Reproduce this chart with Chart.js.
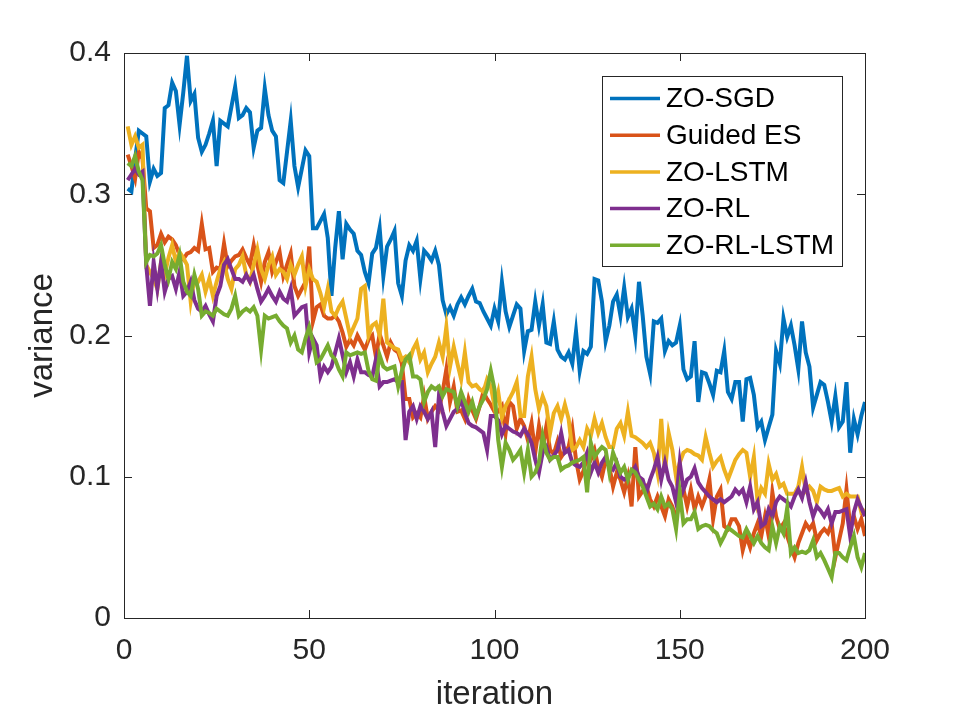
<!DOCTYPE html>
<html>
<head>
<meta charset="utf-8">
<script src="https://cdn.jsdelivr.net/npm/chart.js@4.4.1/dist/chart.umd.min.js"></script>
<style>
  html, body { margin: 0; padding: 0; background: #fff; }
  canvas { display: block; }
</style>
</head>
<body>
<canvas id="myChart" width="955" height="716"></canvas>
<script>
// iterations 1..200 (category axis)
const iterations = Array.from({length: 200}, (_, i) => i + 1);

const seriesNames = ["ZO-SGD", "Guided ES", "ZO-LSTM", "ZO-RL", "ZO-RL-LSTM"];
const seriesColors = ["#0072BD", "#D95319", "#EDB120", "#7E2F8E", "#77AC30"];

const xTicks = [0, 50, 100, 150, 200];
const yTicks = [0, 0.1, 0.2, 0.3, 0.4];

const zoSgd = [
  0.304,0.302,0.325,0.345,0.343,0.341,0.309,0.318,0.313,0.315,
  0.361,0.363,0.379,0.373,0.349,0.372,0.398,0.366,0.371,0.340,
  0.330,0.335,0.343,0.352,0.320,0.352,0.350,0.348,0.362,0.376,
  0.354,0.356,0.361,0.358,0.333,0.345,0.347,0.375,0.356,0.345,
  0.341,0.310,0.308,0.330,0.352,0.320,0.305,0.318,0.331,0.327,
  0.276,0.276,0.281,0.286,0.269,0.228,0.262,0.288,0.254,0.279,
  0.275,0.272,0.260,0.257,0.245,0.237,0.258,0.262,0.276,0.242,
  0.263,0.268,0.274,0.237,0.228,0.253,0.264,0.260,0.267,0.240,
  0.260,0.257,0.253,0.260,0.250,0.225,0.215,0.220,0.214,0.222,
  0.227,0.222,0.228,0.233,0.224,0.223,0.217,0.212,0.207,0.219,
  0.210,0.238,0.217,0.206,0.214,0.222,0.219,0.189,0.203,0.204,
  0.224,0.207,0.222,0.195,0.194,0.210,0.190,0.185,0.183,0.188,
  0.180,0.203,0.175,0.189,0.187,0.192,0.240,0.239,0.224,0.196,
  0.207,0.224,0.229,0.214,0.234,0.213,0.219,0.200,0.238,0.214,
  0.185,0.173,0.210,0.209,0.212,0.189,0.196,0.193,0.195,0.207,
  0.176,0.169,0.171,0.196,0.153,0.174,0.173,0.166,0.158,0.175,
  0.174,0.189,0.160,0.155,0.167,0.167,0.139,0.169,0.170,0.158,
  0.135,0.139,0.126,0.135,0.144,0.189,0.180,0.212,0.199,0.207,
  0.193,0.176,0.210,0.188,0.178,0.149,0.158,0.167,0.165,0.153,
  0.139,0.157,0.135,0.139,0.167,0.117,0.141,0.130,0.143,0.153
];

const guidedEs = [
  0.328,0.320,0.311,0.330,0.325,0.290,0.288,0.262,0.264,0.272,
  0.266,0.270,0.268,0.264,0.257,0.254,0.258,0.259,0.262,0.260,
  0.279,0.261,0.262,0.245,0.248,0.247,0.265,0.249,0.253,0.256,
  0.257,0.261,0.255,0.250,0.264,0.250,0.238,0.252,0.259,0.245,
  0.252,0.259,0.242,0.250,0.258,0.235,0.228,0.233,0.238,0.263,
  0.210,0.220,0.222,0.214,0.212,0.212,0.214,0.210,0.202,0.192,
  0.197,0.193,0.200,0.195,0.190,0.197,0.200,0.185,0.201,0.193,
  0.185,0.195,0.190,0.188,0.180,0.155,0.155,0.142,0.145,0.142,
  0.157,0.141,0.146,0.150,0.147,0.160,0.176,0.153,0.164,0.146,
  0.147,0.141,0.155,0.147,0.141,0.150,0.160,0.155,0.151,0.146,
  0.146,0.150,0.131,0.153,0.150,0.134,0.141,0.136,0.126,0.138,
  0.117,0.136,0.121,0.136,0.119,0.116,0.125,0.114,0.118,0.121,
  0.134,0.112,0.098,0.104,0.114,0.112,0.119,0.107,0.100,0.112,
  0.107,0.093,0.103,0.098,0.089,0.100,0.079,0.121,0.086,0.090,
  0.093,0.084,0.079,0.086,0.079,0.072,0.084,0.079,0.070,0.084,
  0.091,0.079,0.091,0.077,0.086,0.079,0.086,0.098,0.070,0.086,
  0.091,0.065,0.063,0.070,0.070,0.065,0.048,0.058,0.050,0.060,
  0.067,0.058,0.072,0.058,0.089,0.072,0.063,0.067,0.058,0.050,
  0.043,0.053,0.060,0.067,0.063,0.067,0.055,0.060,0.063,0.060,
  0.067,0.043,0.055,0.067,0.091,0.065,0.072,0.063,0.070,0.058
];

const zoLstm = [
  0.348,0.335,0.341,0.333,0.335,0.250,0.245,0.240,0.233,0.252,
  0.243,0.255,0.264,0.252,0.259,0.255,0.250,0.224,0.240,0.238,
  0.243,0.231,0.240,0.228,0.238,0.247,0.252,0.240,0.233,0.247,
  0.250,0.256,0.243,0.238,0.250,0.261,0.247,0.240,0.250,0.256,
  0.243,0.247,0.245,0.240,0.250,0.243,0.250,0.256,0.235,0.247,
  0.240,0.238,0.230,0.220,0.233,0.217,0.214,0.220,0.224,0.212,
  0.200,0.206,0.212,0.233,0.235,0.200,0.207,0.209,0.200,0.226,
  0.195,0.193,0.191,0.190,0.183,0.185,0.181,0.190,0.195,0.183,
  0.188,0.174,0.180,0.185,0.195,0.185,0.206,0.178,0.192,0.180,
  0.169,0.188,0.167,0.164,0.165,0.162,0.160,0.169,0.164,0.150,
  0.160,0.142,0.150,0.155,0.160,0.167,0.143,0.143,0.171,0.185,
  0.162,0.148,0.157,0.150,0.131,0.145,0.150,0.141,0.151,0.141,
  0.119,0.121,0.126,0.121,0.134,0.129,0.141,0.131,0.138,0.128,
  0.121,0.121,0.134,0.138,0.129,0.146,0.129,0.128,0.126,0.124,
  0.121,0.124,0.117,0.103,0.141,0.103,0.131,0.119,0.100,0.110,
  0.117,0.119,0.118,0.116,0.115,0.112,0.128,0.117,0.107,0.111,
  0.114,0.105,0.098,0.105,0.112,0.116,0.119,0.117,0.100,0.114,
  0.082,0.092,0.088,0.109,0.098,0.102,0.093,0.095,0.088,0.088,
  0.088,0.093,0.107,0.090,0.093,0.090,0.082,0.093,0.091,0.090,
  0.090,0.091,0.092,0.086,0.088,0.086,0.086,0.086,0.075,0.077
];

const zoRl = [
  0.310,0.314,0.318,0.314,0.316,0.250,0.221,0.252,0.233,0.252,
  0.231,0.240,0.242,0.233,0.245,0.228,0.231,0.238,0.225,0.219,
  0.217,0.221,0.215,0.210,0.228,0.235,0.250,0.254,0.247,0.240,
  0.240,0.238,0.243,0.238,0.243,0.233,0.224,0.228,0.233,0.228,
  0.224,0.231,0.226,0.224,0.233,0.214,0.217,0.220,0.221,0.188,
  0.198,0.193,0.171,0.178,0.174,0.178,0.188,0.198,0.186,0.174,
  0.181,0.171,0.183,0.174,0.174,0.172,0.171,0.183,0.164,0.167,
  0.167,0.168,0.169,0.167,0.167,0.126,0.146,0.150,0.141,0.150,
  0.146,0.141,0.146,0.121,0.157,0.146,0.136,0.141,0.146,0.148,
  0.155,0.145,0.138,0.136,0.135,0.133,0.131,0.119,0.143,0.143,
  0.140,0.130,0.136,0.134,0.132,0.131,0.129,0.134,0.130,0.124,
  0.112,0.103,0.117,0.121,0.112,0.115,0.119,0.131,0.117,0.119,
  0.110,0.108,0.107,0.110,0.117,0.103,0.110,0.103,0.110,0.114,
  0.107,0.105,0.110,0.100,0.098,0.100,0.103,0.107,0.100,0.098,
  0.089,0.098,0.105,0.114,0.098,0.110,0.098,0.093,0.082,0.110,
  0.091,0.098,0.100,0.106,0.096,0.092,0.089,0.086,0.084,0.082,
  0.084,0.082,0.084,0.086,0.091,0.088,0.091,0.082,0.093,0.077,
  0.082,0.065,0.067,0.077,0.072,0.082,0.086,0.084,0.082,0.079,
  0.086,0.091,0.085,0.096,0.082,0.072,0.079,0.076,0.072,0.077,
  0.067,0.075,0.075,0.076,0.077,0.058,0.075,0.084,0.078,0.072
];

const zoRlLstm = [
  0.322,0.320,0.327,0.316,0.310,0.252,0.257,0.256,0.258,0.264,
  0.250,0.240,0.252,0.247,0.257,0.238,0.231,0.228,0.243,0.233,
  0.214,0.217,0.216,0.214,0.219,0.217,0.215,0.214,0.219,0.228,
  0.214,0.217,0.219,0.217,0.220,0.214,0.190,0.214,0.212,0.213,
  0.214,0.210,0.207,0.205,0.195,0.200,0.190,0.188,0.198,0.206,
  0.195,0.181,0.183,0.188,0.193,0.186,0.183,0.176,0.171,0.188,
  0.186,0.187,0.188,0.187,0.188,0.175,0.169,0.168,0.186,0.178,
  0.176,0.177,0.178,0.164,0.175,0.183,0.186,0.171,0.171,0.169,
  0.153,0.160,0.164,0.162,0.164,0.157,0.162,0.161,0.160,0.150,
  0.160,0.153,0.146,0.153,0.143,0.150,0.155,0.162,0.175,0.162,
  0.126,0.107,0.124,0.119,0.112,0.115,0.119,0.103,0.119,0.100,
  0.103,0.110,0.129,0.117,0.112,0.114,0.114,0.105,0.107,0.108,
  0.110,0.111,0.112,0.114,0.089,0.124,0.114,0.118,0.121,0.119,
  0.103,0.117,0.110,0.103,0.107,0.098,0.105,0.103,0.098,0.093,
  0.086,0.079,0.081,0.077,0.086,0.079,0.081,0.077,0.063,0.089,
  0.067,0.070,0.070,0.075,0.063,0.065,0.066,0.065,0.062,0.060,
  0.053,0.058,0.064,0.062,0.060,0.058,0.057,0.063,0.058,0.053,
  0.058,0.053,0.050,0.048,0.065,0.053,0.065,0.060,0.078,0.046,
  0.050,0.046,0.047,0.046,0.048,0.055,0.043,0.046,0.041,0.035,
  0.029,0.046,0.046,0.043,0.041,0.050,0.058,0.043,0.036,0.046
];

const allSeries = [zoSgd, guidedEs, zoLstm, zoRl, zoRlLstm];

const FONT = "'Liberation Sans', Arial, Helvetica, sans-serif";
const AXIS_COLOR = '#262626';

// MATLAB-like box, inward ticks and legend
const matlabBox = {
  id: 'matlabBox',
  afterDraw(chart) {
    const {ctx, chartArea: a, scales} = chart;
    ctx.save();
    ctx.strokeStyle = AXIS_COLOR;
    ctx.lineWidth = 1;
    const tl = 8;
    ctx.beginPath();
    xTicks.forEach(v => {
      const px = Math.round(scales.x.getPixelForValue(v)) + 0.5;
      ctx.moveTo(px, a.bottom); ctx.lineTo(px, a.bottom - tl);
      ctx.moveTo(px, a.top); ctx.lineTo(px, a.top + tl);
    });
    yTicks.forEach(v => {
      const py = Math.round(scales.y.getPixelForValue(v)) + 0.5;
      ctx.moveTo(a.left, py); ctx.lineTo(a.left + tl, py);
      ctx.moveTo(a.right, py); ctx.lineTo(a.right - tl, py);
    });
    ctx.stroke();
    ctx.strokeRect(Math.round(a.left) + 0.5, Math.round(a.top) + 0.5,
                   Math.round(a.right - a.left), Math.round(a.bottom - a.top));

    // legend
    const lx = 602.5, ly = 76.5, lw = 240, lh = 190;
    ctx.fillStyle = '#fff';
    ctx.fillRect(lx, ly, lw, lh);
    ctx.strokeStyle = AXIS_COLOR;
    ctx.strokeRect(lx, ly, lw, lh);
    ctx.font = '28px ' + FONT;
    ctx.textBaseline = 'middle';
    ctx.textAlign = 'left';
    seriesNames.forEach((name, k) => {
      const y = 98.5 + k * 36.7;
      ctx.strokeStyle = seriesColors[k];
      ctx.lineWidth = 3.5;
      ctx.beginPath();
      ctx.moveTo(610, y); ctx.lineTo(660, y);
      ctx.stroke();
      ctx.fillStyle = '#000';
      ctx.fillText(name, 666, y + 1);
    });
    ctx.restore();
  }
};

const ctx = document.getElementById('myChart').getContext('2d');

const myChart = new Chart(ctx, {
  type: 'line',
  data: {
    datasets: allSeries.map((vals, k) => ({
      label: seriesNames[k],
      data: vals.map((v, i) => ({x: iterations[i], y: v})),
      borderColor: seriesColors[k],
      backgroundColor: seriesColors[k],
      borderWidth: 4,
      pointRadius: 0,
      tension: 0,
      fill: false,
      order: allSeries.length - k
    }))
  },
  options: {
    responsive: false,
    animation: false,
    devicePixelRatio: 1,
    layout: { padding: { left: 0, top: 53, right: 90, bottom: 0 } },
    plugins: {
      legend: { display: false },
      tooltip: { enabled: false }
    },
    scales: {
      x: {
        type: 'linear',
        min: 0, max: 200,
        afterFit: s => { s.height = 98; },
        afterBuildTicks: s => { s.ticks = xTicks.map(v => ({value: v})); },
        grid: { display: false, drawTicks: false },
        border: { display: false },
        ticks: {
          color: AXIS_COLOR,
          font: { family: FONT, size: 30 },
          padding: 15,
          maxRotation: 0
        },
        title: {
          display: true,
          text: 'iteration',
          color: AXIS_COLOR,
          font: { family: FONT, size: 33, lineHeight: 1 },
          padding: { top: 0, bottom: 5 }
        }
      },
      y: {
        type: 'linear',
        min: 0, max: 0.4,
        afterFit: s => { s.width = 124; },
        afterBuildTicks: s => { s.ticks = yTicks.map(v => ({value: v})); },
        grid: { display: false, drawTicks: false },
        border: { display: false },
        ticks: {
          color: AXIS_COLOR,
          font: { family: FONT, size: 30 },
          padding: 13,
          callback: v => String(Number(v.toFixed(1)))
        },
        title: {
          display: true,
          text: 'variance',
          color: AXIS_COLOR,
          font: { family: FONT, size: 33, lineHeight: 1 },
          padding: { top: 26, bottom: 0 }
        }
      }
    }
  },
  plugins: [matlabBox]
});
</script>
</body>
</html>
